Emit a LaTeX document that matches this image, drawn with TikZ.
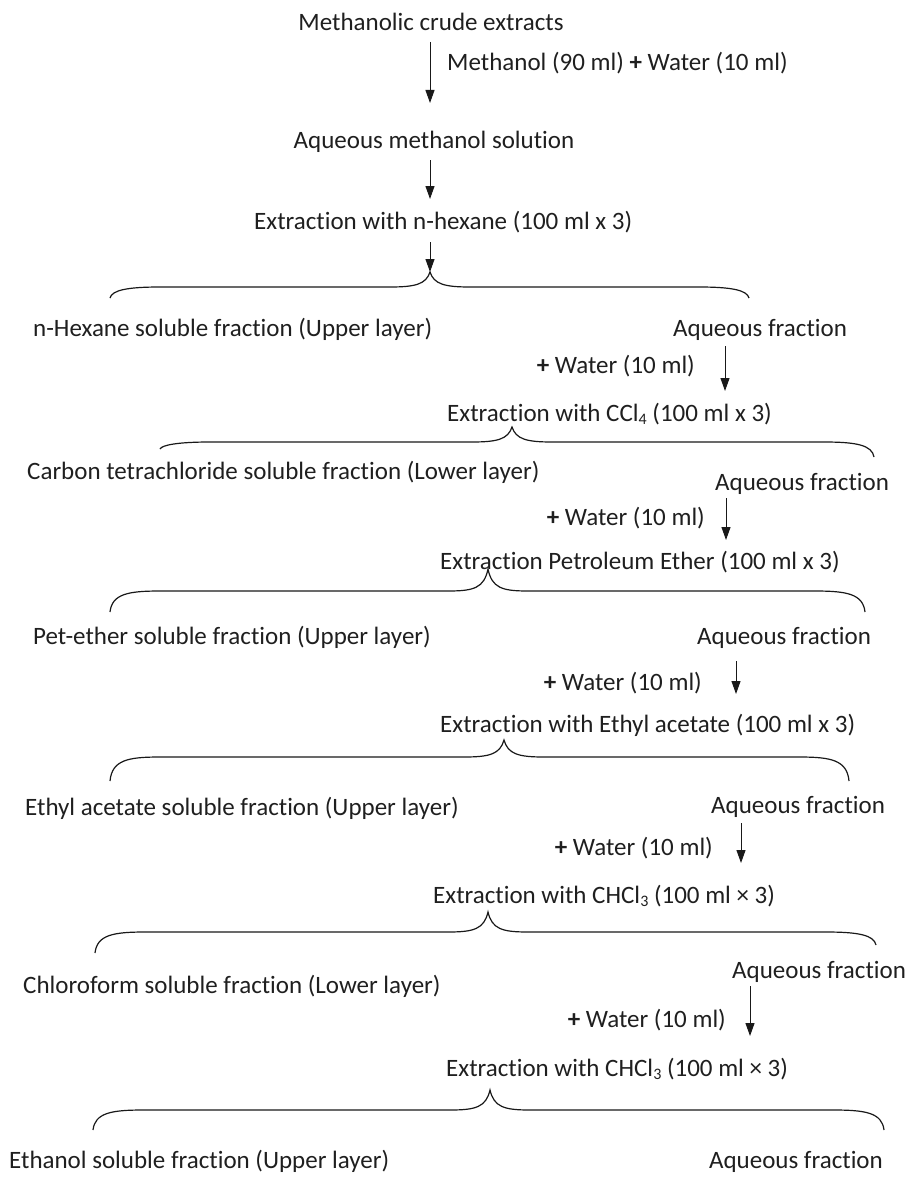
\documentclass[tikz,border=0pt]{standalone}
\usepackage{fontspec}
\setmainfont{Carlito}[RawFeature={-liga}]
\usetikzlibrary{arrows.meta}
\newcommand{\fracbrace}[7]{%
  \draw[brc] (#1,#2) .. controls (#1+2,#5+3) and (#1+18,#5) .. (#1+50,#5)
    -- (#3-40,#5) .. controls (#3-14,#5) and (#3-4,#5-3) .. (#3,#4)
    .. controls (#3+4,#5-3) and (#3+14,#5) .. (#3+40,#5)
    -- (#6-50,#5) .. controls (#6-18,#5) and (#6-2,#5+3) .. (#6,#7);}
\newcommand{\subsc}[1]{\raisebox{-0.3ex}{\fontsize{16}{16}\selectfont #1}}
\begin{document}
\begin{tikzpicture}[x=1pt,y=-1pt,
  txt/.style={inner sep=0pt, font=\fontsize{25}{30}\selectfont, text=black!88},
  arr/.style={line width=1pt, draw=black!90, -{Triangle[width=9pt,length=13pt]}},
  brc/.style={line width=1.2pt, draw=black!90}]
\useasboundingbox (0,0) rectangle (909,1180);

% top
\node[txt,anchor=base] (t1) at (431,31) {Methanolic crude extracts};
\node[txt,anchor=base west] (l1) at (447,71) {Methanol (90 ml) \textbf{+} Water (10 ml)};
\coordinate (a1s) at (430,42); \coordinate (a1e) at (430,103);
\draw[arr] (a1s) -- (a1e);
\node[txt,anchor=base] (t2) at (434,148) {Aqueous methanol solution};
\coordinate (a2s) at (430,160); \coordinate (a2e) at (430,199);
\draw[arr] (a2s) -- (a2e);
\node[txt,anchor=base west] (t3) at (254,229) {Extraction with n-hexane (100 ml x 3)};
\coordinate (a3s) at (430,242); \coordinate (a3e) at (430,272);
\draw[arr] (a3s) -- (a3e);

% row 1
\fracbrace{110}{298}{430}{272}{287}{749}{298}
\node[txt,anchor=base west] (f1) at (33,336) {n-Hexane soluble fraction (Upper layer)};
\node[txt,anchor=base west] (q1) at (673,336) {Aqueous fraction};
\coordinate (b1s) at (725,346); \coordinate (b1e) at (725,391);
\draw[arr] (b1s) -- (b1e);
\node[txt,anchor=base east] (w1) at (695,373) {\textbf{+} Water (10 ml)};
\node[txt,anchor=base west] (e1) at (447,421) {Extraction with CCl\subsc{4} (100 ml x 3)};

% row 2
\fracbrace{160}{449}{512}{427}{442}{874}{457}
\node[txt,anchor=base west] (f2) at (27,479) {Carbon tetrachloride soluble fraction (Lower layer)};
\node[txt,anchor=base west] (q2) at (715,490) {Aqueous fraction};
\coordinate (b2s) at (726,498); \coordinate (b2e) at (726,540);
\draw[arr] (b2s) -- (b2e);
\node[txt,anchor=base east] (w2) at (705,525) {\textbf{+} Water (10 ml)};
\node[txt,anchor=base west] (e2) at (440,569) {Extraction Petroleum Ether (100 ml x 3)};

% row 3
\fracbrace{110}{612}{488}{569}{591}{865}{612}
\node[txt,anchor=base west] (f3) at (33,644) {Pet-ether soluble fraction (Upper layer)};
\node[txt,anchor=base west] (q3) at (697,644) {Aqueous fraction};
\coordinate (b3s) at (736,661); \coordinate (b3e) at (736,694);
\draw[arr] (b3s) -- (b3e);
\node[txt,anchor=base east] (w3) at (702,690) {\textbf{+} Water (10 ml)};
\node[txt,anchor=base west] (e3) at (440,732) {Extraction with Ethyl acetate (100 ml x 3)};

% row 4
\fracbrace{110}{781}{504}{740}{757}{849}{781}
\node[txt,anchor=base west] (f4) at (25,815) {Ethyl acetate soluble fraction (Upper layer)};
\node[txt,anchor=base west] (q4) at (711,813) {Aqueous fraction};
\coordinate (b4s) at (741,823); \coordinate (b4e) at (741,863);
\draw[arr] (b4s) -- (b4e);
\node[txt,anchor=base east] (w4) at (713,855) {\textbf{+} Water (10 ml)};
\node[txt,anchor=base west] (e4) at (433,903) {Extraction with CHCl\subsc{3} (100 ml \texttimes{} 3)};

% row 5
\fracbrace{95}{953}{488}{912}{932}{876}{945}
\node[txt,anchor=base west] (f5) at (23,993) {Chloroform soluble fraction (Lower layer)};
\node[txt,anchor=base west] (q5) at (732,978) {Aqueous fraction};
\coordinate (b5s) at (750,986); \coordinate (b5e) at (750,1036);
\draw[arr] (b5s) -- (b5e);
\node[txt,anchor=base east] (w5) at (726,1027) {\textbf{+} Water (10 ml)};
\node[txt,anchor=base west] (e5) at (446,1076) {Extraction with CHCl\subsc{3} (100 ml \texttimes{} 3)};

% row 6
\fracbrace{93}{1130}{490}{1090}{1110}{884}{1130}
\node[txt,anchor=base west] (f6) at (9,1168) {Ethanol soluble fraction (Upper layer)};
\node[txt,anchor=base east] (q6) at (883,1168) {Aqueous fraction};
\end{tikzpicture}
\end{document}
